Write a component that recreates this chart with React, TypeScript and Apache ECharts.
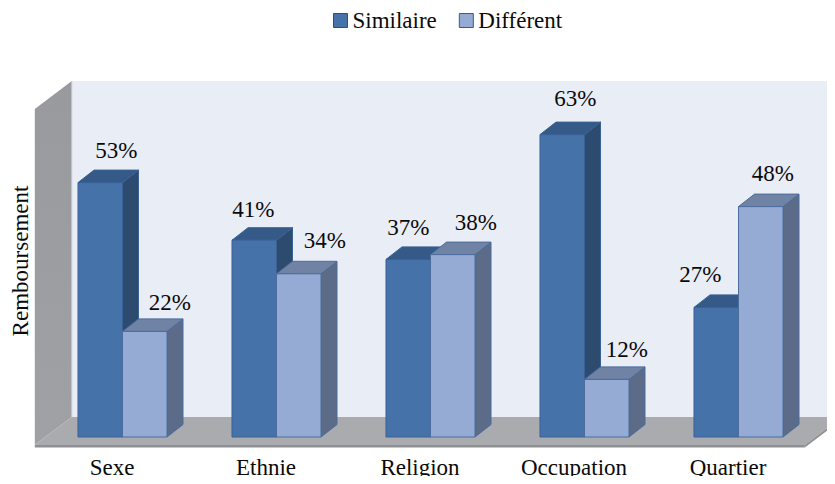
import { useEffect, useRef } from "react";
import * as echarts from "echarts";

// Chart data
const categories = ["Sexe", "Ethnie", "Religion", "Occupation", "Quartier"];
const seriesNames = ["Similaire", "Différent"];
const similaire = [53, 41, 37, 63, 27];
const different = [22, 34, 38, 12, 48];
const axisMax = 70;
const axisStep = 10;
const axisTitle = "Remboursement";

// Small per-label nudges (px) from the centre of each bar's back top edge
const simLabelNudge = [[0, -20], [-17, -18], [-16, -19], [-3, -24], [-32, -20]];
const diffLabelNudge = [[9, -16], [10, -21], [7, -20], [4, -17], [-4, -21]];

// Oblique projection offsets (px) relative to the bars' front plane
const BAR_DEPTH: [number, number] = [16, -12.5];
const BACK_PLANE: [number, number] = [26.3, -20];
const FRONT_PLANE: [number, number] = [-10.7, 8];

const FONT = "Liberation Serif";
const FONT_SIZE = 23;
const INK = "#0a0a0a";

const palette = {
  sim: { front: "#4572a9", top: "#355a87", side: "#2d4a6f", stroke: "#3a6196" },
  diff: { front: "#96abd4", top: "#7083a5", side: "#5b6b88", stroke: "#4b6c9c" },
};

function barRenderer(side: -1 | 1, colors: typeof palette.sim, nudges: number[][]) {
  return (params: any, api: any) => {
    const idx = api.value(0);
    const v = api.value(1);
    const base = api.coord([idx, 0]);
    const top = api.coord([idx, v]);
    const band = api.size([1, 0])[0];
    const w = band * 0.289;
    const x0 = side < 0 ? base[0] - w : base[0];
    const x1 = x0 + w;
    const yB = base[1];
    const yT = top[1];
    const [dx, dy] = BAR_DEPTH;
    const nudge = nudges[params.dataIndex] || [0, -20];
    const lineStyle = { stroke: colors.stroke, lineWidth: 1, lineJoin: "round" };
    return {
      type: "group",
      children: [
        {
          type: "polygon",
          shape: { points: [[x1, yT], [x1 + dx, yT + dy], [x1 + dx, yB + dy], [x1, yB]] },
          style: { fill: colors.side, ...lineStyle },
        },
        {
          type: "polygon",
          shape: { points: [[x0, yT], [x0 + dx, yT + dy], [x1 + dx, yT + dy], [x1, yT]] },
          style: { fill: colors.top, ...lineStyle },
        },
        {
          type: "rect",
          shape: { x: x0, y: yT, width: w, height: yB - yT },
          style: { fill: colors.front, ...lineStyle },
        },
        {
          type: "text",
          x: (x0 + x1) / 2 + dx + nudge[0],
          y: yT + dy + nudge[1],
          style: {
            text: `${v}%`,
            fill: INK,
            fontFamily: FONT,
            fontSize: FONT_SIZE,
            align: "center",
            verticalAlign: "middle",
          },
        },
      ],
    };
  };
}

function wallRenderer(params: any) {
  const cs = params.coordSys;
  const L = cs.x;
  const R = cs.x + cs.width;
  const T = cs.y;
  const B = cs.y + cs.height;
  const [bx, by] = BACK_PLANE;
  const [fx, fy] = FRONT_PLANE;
  return {
    type: "group",
    children: [
      {
        type: "rect",
        shape: { x: L + bx, y: T + by, width: R - L + 40, height: B - T },
        style: { fill: "#e9edf6" },
      },
      {
        type: "polygon",
        shape: { points: [[L + fx, T + fy], [L + bx, T + by], [L + bx, B + by], [L + fx, B + fy]] },
        style: {
          fill: new echarts.graphic.LinearGradient(0, 0, 0, 1, [
            { offset: 0, color: "#999a9e" },
            { offset: 1, color: "#a0a1a5" },
          ]),
        },
      },
      {
        type: "line",
        shape: { x1: L + bx, y1: T + by, x2: L + bx, y2: B + by },
        style: { stroke: "#c9ccd3", lineWidth: 1 },
      },
      {
        type: "polygon",
        shape: { points: [[L + fx, B + fy], [L + bx, B + by], [R + bx, B + by], [R + fx, B + fy]] },
        style: { fill: "#a9abae" },
      },
      {
        type: "polygon",
        shape: {
          points: [[L + fx, B + fy], [R + fx, B + fy], [R + fx, B + fy + 2.5], [L + fx, B + fy + 2.5]],
        },
        style: { fill: "#8e9093" },
      },
      {
        type: "polygon",
        shape: {
          points: [[R + fx, B + fy], [R + bx, B + by], [R + bx, B + by + 2.5], [R + fx, B + fy + 2.5]],
        },
        style: { fill: "#8e9093" },
      },
    ],
  };
}

export default function App() {
  const ref = useRef<HTMLDivElement>(null);

  useEffect(() => {
    if (!ref.current) return;
    const chart = echarts.init(ref.current, undefined, { renderer: "svg" });
    chart.setOption({
      animation: false,
      backgroundColor: "#ffffff",
      textStyle: { fontFamily: FONT },
      legend: {
        left: 333,
        top: 9,
        padding: 0,
        itemWidth: 14,
        itemHeight: 14,
        itemGap: 22,
        textStyle: { fontSize: FONT_SIZE, fontFamily: FONT, color: INK },
        data: [
          { name: seriesNames[0], icon: "rect", itemStyle: { color: palette.sim.front, borderColor: "#2e4f7c", borderWidth: 1 } },
          { name: seriesNames[1], icon: "rect", itemStyle: { color: palette.diff.front, borderColor: "#3b5a86", borderWidth: 1 } },
        ],
      },
      grid: { left: 45.5, right: 19.5, top: 101, bottom: 47, outerBoundsMode: "none" },
      xAxis: {
        type: "category",
        data: categories,
        axisLine: { show: false },
        axisTick: { show: false },
        splitLine: { show: false },
        axisLabel: {
          fontSize: FONT_SIZE,
          fontFamily: FONT,
          color: INK,
          margin: 19,
          padding: [0, 21, 0, 0],
          interval: 0,
        },
      },
      yAxis: {
        type: "value",
        min: 0,
        max: axisMax,
        interval: axisStep,
        axisLine: { show: false },
        axisTick: { show: false },
        axisLabel: { show: false },
        splitLine: { show: false },
      },
      graphic: [
        {
          type: "text",
          x: 20,
          y: 261,
          rotation: Math.PI / 2,
          style: {
            text: axisTitle,
            fontFamily: FONT,
            fontSize: FONT_SIZE,
            fill: INK,
            align: "center",
            verticalAlign: "middle",
          },
        },
      ],
      series: [
        {
          type: "custom",
          name: "walls",
          silent: true,
          z: 0,
          data: [[0, 0]],
          renderItem: wallRenderer,
          tooltip: { show: false },
        },
        {
          type: "custom",
          name: seriesNames[0],
          z: 2,
          itemStyle: { color: palette.sim.front },
          data: similaire.map((v, i) => [i, v]),
          renderItem: barRenderer(-1, palette.sim, simLabelNudge),
        },
        {
          type: "custom",
          name: seriesNames[1],
          z: 3,
          itemStyle: { color: palette.diff.front },
          data: different.map((v, i) => [i, v]),
          renderItem: barRenderer(1, palette.diff, diffLabelNudge),
        },
      ],
    });
    return () => chart.dispose();
  }, []);

  return <div ref={ref} style={{ width: 835, height: 484, margin: -8 }} />;
}
